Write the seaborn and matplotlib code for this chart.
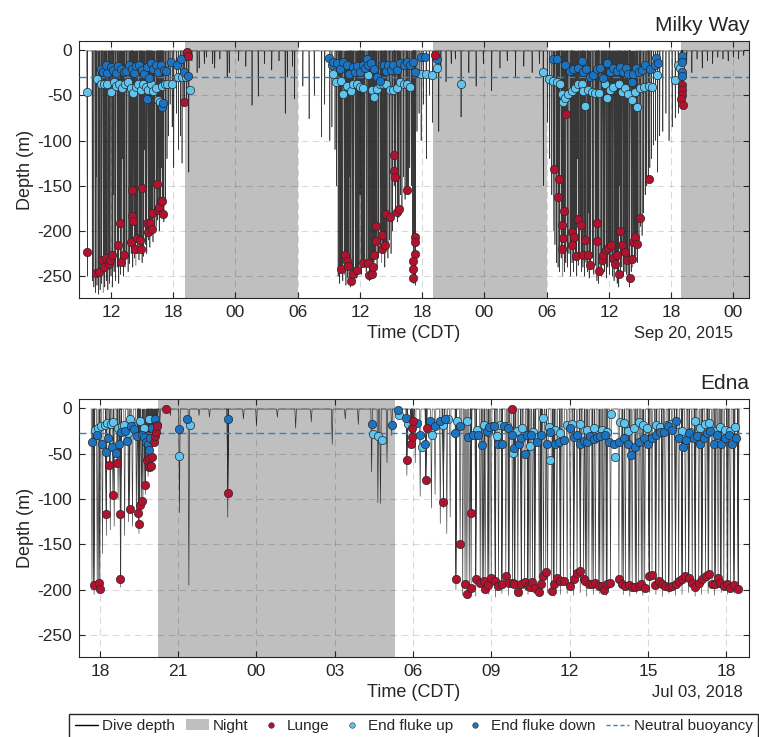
import numpy as np
import pandas as pd
import seaborn as sns
import matplotlib.pyplot as plt
from matplotlib.lines import Line2D
from matplotlib.patches import Patch

# time = hours since midnight of the first day in each panel, depth in m

# ---------------- Milky Way ----------------
mw_lunges = [
    (9.72, -223), (10.52, -246), (10.84, -245), (11.10, -232), (11.32, -240), (11.49, -230),
    (11.81, -237), (11.87, -232), (12.13, -226), (12.68, -216), (12.84, -191), (12.93, -234),
    (13.25, -226), (13.90, -212), (13.99, -155), (14.06, -183), (14.12, -189), (14.31, -220),
    (14.47, -208), (14.80, -210), (14.89, -220), (15.02, -153), (15.44, -191), (15.60, -201),
    (15.76, -191), (15.92, -180), (15.99, -198), (16.40, -148), (16.50, -177), (16.63, -173),
    (16.79, -167), (16.95, -167), (17.01, -181), (19.07, -57), (19.33, -2), (19.39, -7),
    (34.15, -242), (34.57, -227), (34.73, -233), (34.89, -239), (35.12, -255), (35.37, -247),
    (35.76, -243), (36.28, -235), (36.82, -235), (36.92, -249), (37.14, -247), (37.24, -240),
    (37.37, -227), (37.56, -195), (37.59, -211), (38.08, -204), (38.17, -220), (38.43, -216),
    (38.53, -181), (38.85, -185), (39.33, -116), (39.33, -134), (39.39, -140), (39.62, -179),
    (39.75, -176), (40.58, -155), (41.26, -207), (41.32, -212), (41.32, -225), (41.16, -233),
    (41.16, -242), (41.16, -252), (43.24, -6),
    (55.88, -71), (54.72, -132), (55.23, -142), (55.14, -162), (55.68, -178), (55.46, -193),
    (55.62, -208), (55.46, -220), (56.42, -201), (56.65, -207), (56.42, -216), (56.84, -228),
    (57.07, -187), (57.29, -193), (57.49, -227), (57.71, -210), (57.97, -226), (58.19, -238),
    (58.84, -191), (58.90, -211), (59.00, -244), (59.32, -232), (59.48, -226), (59.74, -221),
    (59.96, -219), (60.19, -216), (60.38, -230), (60.60, -237), (60.76, -226), (60.93, -247),
    (61.09, -200), (61.25, -215), (61.57, -223), (61.79, -232), (61.99, -252), (62.21, -231),
    (62.37, -212), (62.53, -207), (62.69, -214), (63.02, -186), (63.82, -142),
    (67.06, -39), (67.06, -44), (67.06, -50), (66.95, -54), (67.10, -61),
]

mw_fluke_up = [
    (9.72, -46), (10.68, -32), (11.00, -38), (11.32, -38), (11.65, -38), (11.97, -46),
    (12.29, -35), (12.51, -40), (12.77, -38), (13.09, -42), (13.35, -38), (13.67, -35),
    (13.90, -42), (14.12, -47), (14.38, -41), (14.64, -38), (14.86, -44), (15.12, -38),
    (15.34, -41), (15.60, -44), (15.83, -38), (16.05, -45), (16.31, -42), (16.53, -55),
    (16.73, -57), (16.95, -40), (17.21, -38), (17.43, -38), (17.92, -38), (18.50, -30),
    (18.88, -30), (19.27, -30), (19.62, -44),
    (33.45, -27), (33.70, -35), (34.15, -34), (34.41, -49), (34.73, -40), (35.12, -45),
    (35.37, -38), (35.76, -38), (36.02, -41), (36.34, -42), (36.82, -28), (37.14, -44),
    (37.37, -52), (37.63, -43), (37.95, -38), (38.27, -38), (38.53, -38), (38.85, -44),
    (39.23, -44), (39.55, -42), (39.88, -35), (40.20, -38), (40.52, -38), (40.84, -41),
    (41.48, -25), (41.87, -27), (42.38, -27), (42.93, -28), (43.41, -20), (45.75, -37),
    (53.66, -24), (54.27, -32), (54.66, -34), (54.98, -35), (55.30, -38), (55.46, -49),
    (55.62, -57), (55.78, -53), (56.10, -49), (56.42, -45), (56.75, -42), (57.07, -38),
    (57.39, -37), (57.71, -62), (57.55, -45), (58.03, -44), (58.35, -46), (58.67, -47),
    (59.00, -47), (59.64, -38), (59.80, -53), (60.06, -44), (60.44, -41), (60.93, -38),
    (61.25, -46), (61.57, -42), (61.89, -49), (62.21, -55), (62.53, -46), (62.69, -63),
    (63.02, -42), (63.40, -41), (63.82, -40), (64.14, -41), (64.62, -28), (66.39, -33),
    (66.70, -17), (66.90, -20),
]

mw_fluke_down = [
    (11.00, -21), (11.23, -24), (11.49, -16), (11.65, -25), (11.97, -19), (12.23, -22),
    (12.45, -25), (12.71, -18), (12.93, -21), (13.25, -24), (13.48, -23), (13.74, -16),
    (13.99, -21), (14.22, -25), (14.44, -18), (14.70, -16), (14.96, -22), (15.18, -27),
    (15.50, -19), (15.67, -31), (15.83, -14), (16.05, -21), (16.31, -16), (16.57, -24),
    (16.79, -17), (17.11, -22), (17.34, -23), (17.76, -13), (18.40, -17), (18.72, -10),
    (19.04, -24), (19.46, -29), (15.44, -54), (16.95, -63), (17.05, -59),
    (33.06, -9), (33.28, -16), (33.45, -13), (33.83, -14), (34.09, -21), (34.41, -13),
    (34.73, -16), (34.99, -27), (35.31, -19), (35.54, -24), (35.76, -18), (36.02, -24),
    (36.28, -16), (36.50, -20), (36.66, -10), (36.82, -17), (37.05, -14), (37.37, -21),
    (37.63, -30), (37.95, -34), (38.11, -16), (38.33, -17), (38.53, -23), (38.75, -16),
    (38.98, -22), (39.23, -16), (39.55, -22), (39.88, -14), (40.26, -16), (40.52, -13),
    (40.84, -17), (41.16, -13), (41.32, -24), (41.87, -8), (42.29, -8), (43.41, -10),
    (54.59, -10), (54.98, -10), (55.78, -16), (56.26, -23), (56.58, -21), (57.07, -20),
    (57.39, -12), (57.55, -24), (57.81, -21), (58.19, -30), (58.51, -28), (58.90, -21),
    (59.16, -20), (59.48, -31), (59.86, -14), (60.12, -24), (60.44, -20), (60.76, -23),
    (61.09, -19), (61.34, -24), (61.67, -20), (61.89, -27), (62.21, -35), (62.37, -27),
    (62.63, -20), (62.95, -24), (63.18, -22), (63.50, -17), (63.98, -21), (64.46, -16),
    (64.55, -9), (64.75, -14), (67.06, -7), (67.06, -13), (67.00, -24), (67.06, -29),
]

# other dives (no lunge) - max depth of each
mw_dives = [
    (9.72, -250), (10.20, -255), (10.35, -262), (10.50, -268), (10.65, -260), (10.80, -270),
    (10.95, -265), (11.10, -258), (11.25, -268), (11.40, -262), (11.55, -255), (11.70, -265),
    (11.85, -258), (12.00, -250), (12.15, -262), (12.30, -245), (12.45, -255), (12.60, -240),
    (12.75, -258), (12.90, -248), (13.05, -235), (13.20, -250), (13.35, -240), (13.50, -230),
    (13.65, -245), (13.80, -236), (13.95, -225), (14.10, -240), (14.25, -230), (14.40, -238),
    (14.55, -225), (14.70, -232), (14.85, -220), (15.00, -235), (15.15, -228), (15.30, -215),
    (15.45, -225), (15.60, -210), (15.75, -218), (15.90, -205), (16.05, -212), (16.20, -200),
    (16.35, -195), (16.50, -188), (16.65, -200), (16.80, -178), (16.95, -185), (17.10, -190),
    (17.25, -170), (17.40, -120), (17.55, -95),
    (10.60, -140), (12.20, -160), (13.10, -120), (14.00, -140), (15.20, -110), (16.10, -150),
    (16.90, -130), (17.70, -60), (17.90, -85), (18.05, -130), (18.30, -70), (18.50, -110),
    (18.70, -95), (18.85, -125), (19.00, -60), (19.30, -60), (19.50, -135),
    (19.80, -12), (20.30, -25), (20.50, -20), (21.00, -15), (21.20, -8), (21.80, -15),
    (22.00, -20), (22.50, -10), (23.20, -30), (23.40, -25), (24.30, -12), (25.00, -18),
    (25.60, -61), (26.20, -51), (26.80, -15), (27.50, -22), (28.20, -12), (28.80, -70),
    (29.00, -30), (29.50, -18), (29.70, -54),
    (30.50, -40), (31.10, -76), (31.60, -50), (32.30, -96), (32.60, -60), (33.10, -100),
    (33.30, -85), (33.60, -110), (33.75, -150),
    (33.90, -250), (34.05, -258), (34.20, -245), (34.35, -255), (34.50, -248), (34.65, -260),
    (34.80, -252), (34.95, -258), (35.10, -262), (35.25, -255), (35.40, -250), (35.55, -245),
    (35.70, -252), (35.85, -240), (36.00, -235), (36.15, -248), (36.30, -240), (36.45, -232),
    (36.60, -245), (36.75, -238), (36.90, -255), (37.05, -250), (37.20, -242), (37.35, -235),
    (37.50, -225), (37.65, -240), (37.80, -230), (37.95, -222), (38.10, -235), (38.25, -225),
    (38.40, -240), (38.55, -218), (38.70, -230), (38.85, -210), (39.00, -225), (39.15, -200),
    (39.30, -150), (39.45, -180), (39.60, -190), (39.75, -185), (39.90, -160), (40.05, -175),
    (40.20, -140), (40.35, -165), (40.50, -155), (40.65, -160), (40.80, -130), (40.95, -150),
    (41.10, -205), (41.20, -258), (41.35, -260),
    (34.00, -120), (35.00, -140), (36.00, -160), (37.00, -130), (38.00, -150),
    (41.50, -90), (41.70, -70), (41.90, -100), (42.10, -60), (42.40, -120), (42.70, -50),
    (43.00, -80), (43.60, -90),
    (43.80, -20), (44.30, -35), (44.80, -15), (45.20, -10), (45.75, -74), (46.50, -25),
    (47.20, -40), (47.90, -15), (48.70, -45), (49.50, -20), (50.20, -12), (51.00, -30),
    (51.80, -18), (52.60, -25), (53.30, -15), (53.68, -150),
    (54.10, -80), (54.30, -120), (54.50, -160), (54.65, -200), (54.80, -215), (54.95, -235),
    (55.10, -240), (55.25, -245), (55.40, -230), (55.55, -250), (55.70, -245), (55.85, -235),
    (56.00, -240), (56.15, -225), (56.30, -250), (56.45, -235), (56.60, -245), (56.75, -232),
    (56.90, -250), (57.05, -238), (57.20, -228), (57.35, -245), (57.50, -240), (57.65, -250),
    (57.80, -235), (57.95, -245), (58.10, -252), (58.25, -240), (58.40, -230), (58.55, -248),
    (58.70, -238), (58.85, -255), (59.00, -258), (59.15, -240), (59.30, -250), (59.45, -238),
    (59.60, -245), (59.75, -252), (59.90, -240), (60.05, -248), (60.20, -235), (60.35, -250),
    (60.50, -255), (60.65, -242), (60.80, -258), (60.95, -262), (61.10, -245), (61.25, -240),
    (61.40, -250), (61.55, -245), (61.70, -248), (61.85, -255), (62.00, -262), (62.15, -245),
    (62.30, -240), (62.45, -232), (62.60, -228), (62.75, -235), (62.90, -215), (63.05, -195),
    (63.20, -205), (63.35, -180), (63.50, -160), (63.65, -150), (63.80, -145), (63.95, -130),
    (64.10, -120), (64.30, -105), (64.50, -100), (64.70, -135), (64.90, -95), (65.20, -90),
    (65.50, -70), (65.80, -100), (66.10, -85), (66.40, -75), (66.70, -70),
    (55.00, -130), (56.00, -170), (57.00, -120), (58.00, -180), (59.00, -140), (60.00, -200),
    (61.00, -150), (62.00, -170),
    (67.50, -15), (68.00, -25), (68.50, -10), (69.00, -20), (69.50, -12), (70.00, -15),
    (70.50, -8), (71.00, -10), (71.50, -12), (72.00, -8), (72.50, -10), (73.00, -6),
]

mw_nights = [(19.14, 30.0), (43.05, 54.0), (66.97, 74.0)]
mw_neutral = -30
mw_xlim = (8.91, 73.52)
mw_ticks = [12, 18, 24, 30, 36, 42, 48, 54, 60, 66, 72]

# ---------------- Edna ----------------
ed_lunges = [
    (17.77, -195), (17.96, -193), (18.00, -199), (18.24, -116), (18.37, -63), (18.50, -96),
    (18.66, -60), (18.79, -117), (18.79, -188), (19.14, -111), (19.47, -115), (19.49, -127),
    (19.53, -107), (19.60, -102), (19.72, -85), (19.81, -57), (19.88, -65), (19.90, -55),
    (19.97, -64), (20.01, -54), (20.07, -37), (20.13, -31), (20.16, -26), (20.20, -20),
    (20.52, -1), (22.90, -93),
    (29.76, -57), (29.92, -39), (29.95, -32), (29.97, -22), (30.01, -14), (30.52, -22),
    (30.49, -79), (31.16, -103), (31.64, -188), (31.80, -149), (31.99, -194), (32.06, -205),
    (32.22, -198), (32.22, -115), (32.40, -188), (32.57, -192), (32.70, -190), (32.76, -199),
    (32.86, -195), (32.99, -187), (33.14, -190), (33.27, -196), (33.40, -194), (33.55, -185),
    (33.68, -192), (33.81, -192), (33.88, -194), (34.01, -202), (34.14, -194), (34.27, -191),
    (34.39, -196), (34.48, -197), (34.57, -191), (34.67, -198), (34.83, -202), (34.90, -194),
    (34.99, -185), (35.08, -180), (35.31, -201), (35.38, -194), (35.50, -187), (35.63, -190),
    (35.76, -190), (33.78, -1),
    (36.02, -196), (36.15, -188), (36.28, -181), (36.41, -179), (36.53, -188), (36.60, -190),
    (36.73, -194), (36.85, -194), (36.98, -192), (37.11, -196), (37.24, -196), (37.30, -200),
    (37.43, -194), (37.56, -192), (37.88, -188), (38.00, -194), (38.13, -196), (38.26, -195),
    (38.39, -197), (38.51, -197), (38.64, -196), (38.74, -194), (38.87, -198), (39.03, -185),
    (39.15, -184), (39.28, -195), (39.41, -190), (39.54, -194), (39.66, -196), (39.79, -197),
    (39.92, -196), (40.05, -194), (40.17, -190), (40.30, -188), (40.43, -185), (40.56, -187),
    (40.69, -192), (40.81, -197), (40.94, -192), (41.07, -188), (41.20, -185), (41.32, -183),
    (41.45, -194), (41.58, -194), (41.68, -187), (41.77, -192), (41.90, -196), (42.03, -194),
    (42.15, -198), (42.28, -195), (42.45, -199),
]

ed_fluke_up = [
    (17.81, -24), (17.94, -22), (18.03, -20), (18.19, -18), (18.28, -16), (18.41, -17),
    (18.51, -15), (18.70, -22), (18.86, -20), (18.92, -18), (19.09, -27), (19.17, -12),
    (19.26, -20), (19.52, -14), (19.69, -22), (19.88, -12), (19.98, -36), (20.07, -25),
    (21.47, -19), (21.05, -53), (28.45, -28), (28.65, -31),
    (28.80, -35), (29.46, -8), (29.80, -17), (30.33, -43), (30.72, -29), (31.16, -19),
    (31.33, -12), (31.67, -14), (32.06, -14), (32.44, -24), (32.70, -19), (32.86, -26),
    (33.01, -20), (33.21, -31), (33.34, -19), (33.59, -20), (33.81, -49), (33.97, -25),
    (34.16, -22), (34.48, -42), (34.61, -26), (34.80, -32), (34.99, -11), (35.19, -21),
    (35.25, -57), (35.44, -24), (35.63, -27), (35.89, -18),
    (36.09, -17), (36.41, -17), (36.66, -24), (36.92, -22), (37.24, -24), (37.43, -26),
    (37.59, -6), (37.72, -54), (37.94, -15), (38.07, -16), (38.23, -25), (38.45, -22),
    (38.64, -15), (38.80, -19), (38.96, -22), (39.31, -19), (39.47, -21), (39.73, -19),
    (39.86, -17), (40.11, -26), (40.30, -25), (40.62, -26), (40.81, -14), (41.00, -22),
    (41.17, -17), (41.32, -16), (41.58, -25), (41.77, -21), (41.96, -24), (42.15, -25),
    (42.32, -21),
]

ed_fluke_down = [
    (17.71, -37), (17.90, -30), (18.09, -40), (18.22, -48), (18.32, -33), (18.45, -43),
    (18.63, -49), (18.73, -39), (18.83, -26), (18.98, -25), (19.05, -36), (19.21, -20),
    (19.30, -23), (19.43, -31), (19.60, -29), (19.69, -32), (19.75, -37), (19.85, -40),
    (19.90, -46), (19.94, -33), (20.01, -22), (20.11, -12), (20.20, -18), (21.03, -23),
    (21.35, -12), (22.90, -12), (28.41, -17),
    (29.18, -19), (29.41, -2), (29.72, -11), (30.14, -16), (30.27, -29), (30.46, -39),
    (30.65, -14), (30.84, -20), (31.04, -14), (31.23, -12), (31.61, -27), (31.80, -20),
    (32.12, -32), (32.31, -29), (32.50, -30), (32.63, -41), (32.82, -25), (32.91, -21),
    (33.08, -20), (33.24, -39), (33.40, -40), (33.50, -20), (33.63, -22), (33.78, -30),
    (33.88, -44), (34.04, -40), (34.14, -33), (34.27, -50), (34.36, -29), (34.52, -29),
    (34.74, -37), (34.90, -29), (35.12, -40), (35.25, -26), (35.42, -40), (35.57, -37),
    (35.76, -35),
    (36.02, -22), (36.15, -32), (36.28, -29), (36.41, -40), (36.53, -36), (36.66, -37),
    (36.79, -31), (36.92, -34), (37.05, -32), (37.17, -31), (37.34, -29), (37.49, -37),
    (37.68, -40), (37.88, -37), (38.07, -33), (38.23, -40), (38.36, -52), (38.49, -43),
    (38.64, -37), (38.83, -33), (39.00, -39), (39.15, -33), (39.31, -29), (39.47, -26),
    (39.60, -26), (39.77, -20), (39.92, -24), (40.05, -14), (40.17, -33), (40.33, -43),
    (40.46, -35), (40.58, -27), (40.75, -33), (40.88, -31), (41.00, -40), (41.13, -33),
    (41.26, -27), (41.39, -25), (41.52, -40), (41.64, -29), (41.81, -39), (41.96, -33),
    (42.09, -29), (42.22, -40), (42.35, -33),
]

ed_dives = [
    (17.70, -200), (17.78, -205), (17.90, -200), (18.10, -160), (18.25, -140), (18.40, -134),
    (18.55, -130), (18.70, -100), (18.80, -197), (18.95, -140), (19.10, -125), (19.25, -130),
    (19.40, -120), (19.50, -138), (19.65, -110), (19.75, -95), (19.85, -75), (20.00, -70),
    (20.10, -40), (20.20, -30), (20.30, -15),
    (20.50, -5), (20.70, -8), (21.05, -115), (21.41, -195), (21.80, -8), (22.20, -10),
    (22.90, -120), (23.50, -12), (24.00, -20), (24.80, -10), (25.50, -22), (26.10, -15),
    (26.90, -40), (27.40, -12), (27.90, -18), (28.41, -70), (28.65, -104), (28.75, -105),
    (29.00, -60),
    (29.18, -30), (29.76, -74), (29.95, -40), (30.08, -60), (30.27, -97), (30.49, -82),
    (30.70, -110), (30.84, -95), (31.04, -127), (31.16, -110), (31.29, -138), (31.42, -120),
    (31.64, -200),
    (31.90, -206), (32.15, -204), (32.40, -207), (32.65, -203), (32.90, -205), (33.15, -208),
    (33.40, -204), (33.65, -206), (33.90, -203), (34.15, -207), (34.40, -205), (34.65, -204),
    (34.90, -206), (35.15, -203), (35.40, -207), (35.65, -205), (35.90, -204), (36.15, -206),
    (36.40, -203), (36.65, -207), (36.90, -205), (37.15, -204), (37.40, -206), (38.05, -205),
    (38.30, -207), (38.55, -204), (38.80, -206), (39.05, -203), (39.30, -205), (39.55, -207),
    (39.80, -204), (40.05, -206), (40.30, -205), (40.55, -203), (40.80, -207), (41.05, -205),
    (41.30, -204), (41.55, -206), (41.80, -203), (42.05, -205), (42.30, -204), (42.45, -202),
]

ed_nights = [(20.23, 29.29)]
ed_neutral = -27
ed_xlim = (17.2, 42.87)
ed_ticks = [18, 21, 24, 27, 30, 33, 36, 39, 42]

# colours
c_dive = '#000000'
c_night = '#bfbfbf'
c_lunge = '#b3122e'
c_up = '#5ec4f0'
c_down = '#1b74c2'
c_neutral = '#3a80b8'
c_edge = '#2a2a2a'

sns.set_style('ticks')
plt.rcParams['font.family'] = ['Liberation Sans', 'DejaVu Sans']
plt.rcParams['axes.unicode_minus'] = False


def dive_trace(dives, lunges):
    pts = sorted(dives + lunges)
    xs, ys = [], []
    for t, d in pts:
        xs += [t - 0.03, t, t + 0.03]
        ys += [-1, d, -1]
    return pd.DataFrame({'time': xs, 'depth': ys})


def panel(ax, dives, lunges, ups, downs, nights, neutral, xlim, ticks,
          title, date, date_x):
    for a, b in nights:
        ax.axvspan(a, b, color=c_night, lw=0, zorder=1)
    trace = dive_trace(dives, lunges)
    sns.lineplot(data=trace, x='time', y='depth', sort=False, estimator=None,
                 color=c_dive, lw=0.45, alpha=0.78, ax=ax, zorder=2)
    ax.axhline(neutral, ls=(0, (5, 3)), color=c_neutral, lw=1.0, zorder=3)
    for pts, col in [(ups, c_up), (downs, c_down), (lunges, c_lunge)]:
        df = pd.DataFrame(pts, columns=['time', 'depth'])
        sns.scatterplot(data=df, x='time', y='depth', color=col, s=36,
                        edgecolor=c_edge, linewidth=0.5, ax=ax, zorder=4)
    ax.set_xlim(*xlim)
    ax.set_ylim(-274, 10)
    ax.set_xticks(ticks)
    ax.set_xticklabels(['%02d' % (h % 24) for h in ticks])
    ax.set_yticks([0, -50, -100, -150, -200, -250])
    ax.set_xlabel('')
    ax.set_ylabel('Depth (m)', fontsize=13, labelpad=2)
    ax.tick_params(direction='in', top=True, right=True, length=4, width=0.8,
                   labelsize=12.5, pad=5, colors='#262626')
    ax.grid(True, ls=(0, (6, 4)), color='black', alpha=0.15, lw=0.8)
    ax.set_axisbelow('line')
    for s in ax.spines.values():
        s.set_linewidth(0.8)
        s.set_color('#262626')
    ax.set_title(title, loc='right', fontsize=15, pad=7)
    ax.text(0.5, -0.137, 'Time (CDT)', transform=ax.transAxes, ha='center',
            va='center', fontsize=13)
    ax.text(date_x, -0.137, date, transform=ax.transAxes, ha='right',
            va='center', fontsize=12)


fig = plt.figure(figsize=(7.59, 7.37), dpi=100)
ax1 = fig.add_axes([0.104, 0.5957, 0.883, 0.3487])
ax2 = fig.add_axes([0.104, 0.1085, 0.883, 0.3500])

panel(ax1, mw_dives, mw_lunges, mw_fluke_up, mw_fluke_down, mw_nights, mw_neutral,
      mw_xlim, mw_ticks, 'Milky Way', 'Sep 20, 2015', 0.976)
panel(ax2, ed_dives, ed_lunges, ed_fluke_up, ed_fluke_down, ed_nights, ed_neutral,
      ed_xlim, ed_ticks, 'Edna', 'Jul 03, 2018', 0.99)

handles = [
    Line2D([], [], color=c_dive, lw=1.0),
    Patch(facecolor=c_night, edgecolor='none'),
    Line2D([], [], ls='none', marker='o', ms=4, mfc=c_lunge, mec=c_edge, mew=0.4),
    Line2D([], [], ls='none', marker='o', ms=4, mfc=c_up, mec=c_edge, mew=0.4),
    Line2D([], [], ls='none', marker='o', ms=4, mfc=c_down, mec=c_edge, mew=0.4),
    Line2D([], [], color=c_neutral, lw=1.0, ls=(0, (3, 2))),
]
labels = ['Dive depth', 'Night', 'Lunge', 'End fluke up', 'End fluke down',
          'Neutral buoyancy']
fig.legend(handles, labels, loc='lower center', bbox_to_anchor=(0.545, -0.012),
           ncol=6, frameon=True, fancybox=False, edgecolor='#262626',
           fontsize=11, handlelength=1.5, handletextpad=0.3, columnspacing=0.7,
           borderpad=0.35, framealpha=1)

fig.savefig('out.png', dpi=100)
